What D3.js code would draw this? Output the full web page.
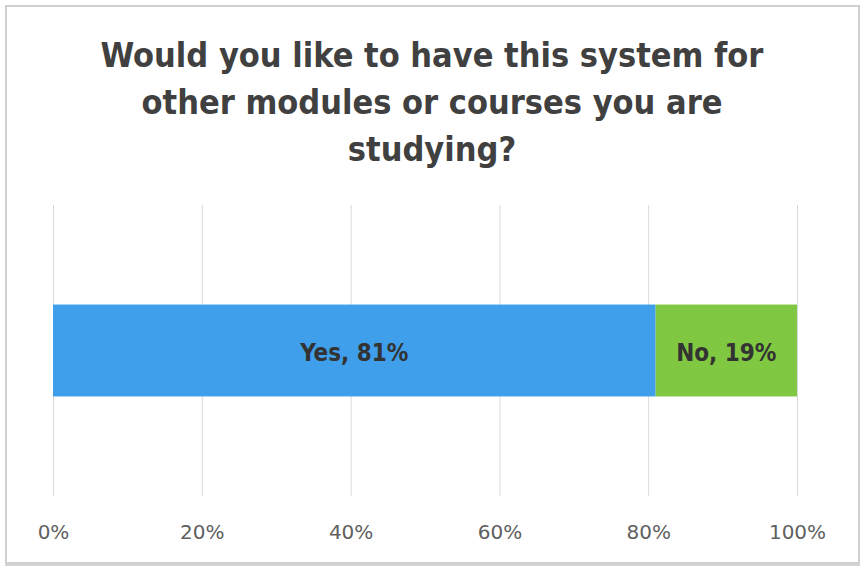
<!DOCTYPE html>
<html><head><meta charset="utf-8">
<script src="https://cdn.jsdelivr.net/npm/d3@7"></script>
<style>
body{margin:0;background:#fff;}
svg{display:block;}
</style></head>
<body>
<svg id="chart" width="865" height="570"></svg>
<script>
const titleLines = ["Would you like to have this system for", "other modules or courses you are", "studying?"];
const categories = ["Yes", "No"];
const values = [81, 19];
const colors = ["#3F9FEA", "#80C841"];
const tickValues = [0, 20, 40, 60, 80, 100];

const svg = d3.select("#chart");
const font = "'DejaVu Sans Condensed', 'DejaVu Sans', sans-serif";
const tickFont = "'DejaVu Sans', sans-serif";

// frame with slight bottom shadow
svg.append("rect").attr("x", 5).attr("y", 7).attr("width", 855).attr("height", 559)
  .attr("fill", "#d4d4d4");
svg.append("rect").attr("x", 6).attr("y", 6).attr("width", 853).attr("height", 557)
  .attr("fill", "#fff").attr("stroke", "#cfcfcf").attr("stroke-width", 2);

const x = d3.scaleLinear().domain([0, 100]).range([53, 797]);
const yTop = 205, yBot = 496;
const y = d3.scaleBand().domain(["q"]).range([yTop, yBot]).padding(0.52);

const grid = svg.append("g").attr("transform", `translate(0,${yBot})`)
  .call(d3.axisBottom(x).tickValues(tickValues).tickSize(-(yBot - yTop)).tickFormat(d => d + "%"));
grid.select(".domain").remove();
grid.selectAll(".tick line").attr("stroke", "#d9d9d9").attr("stroke-width", 1);
grid.selectAll(".tick text").attr("dy", 0).attr("y", 43)
  .attr("font-family", tickFont).attr("font-size", 20).attr("fill", "#5f5f5f");

let cum = 0;
const segs = values.map((v, i) => { const s = {cat: categories[i], v, x0: cum, x1: cum + v, c: colors[i]}; cum += v; return s; });

svg.append("g").selectAll("rect").data(segs).join("rect")
  .attr("x", d => x(d.x0)).attr("width", d => x(d.x1) - x(d.x0))
  .attr("y", y("q")).attr("height", y.bandwidth()).attr("fill", d => d.c);

svg.append("g").selectAll("text").data(segs).join("text")
  .attr("x", d => (x(d.x0) + x(d.x1)) / 2).attr("y", y("q") + y.bandwidth() / 2)
  .attr("dy", "0.42em").attr("text-anchor", "middle")
  .attr("font-family", font).attr("font-weight", "bold").attr("font-size", 24).attr("fill", "#333")
  .text(d => `${d.cat}, ${d.v}%`);

svg.append("g").selectAll("text").data(titleLines).join("text")
  .attr("x", 432).attr("y", (d, i) => 67 + i * 47).attr("text-anchor", "middle")
  .attr("font-family", font).attr("font-weight", "bold").attr("font-size", 34).attr("fill", "#404040")
  .text(d => d);
</script>
</body></html>
